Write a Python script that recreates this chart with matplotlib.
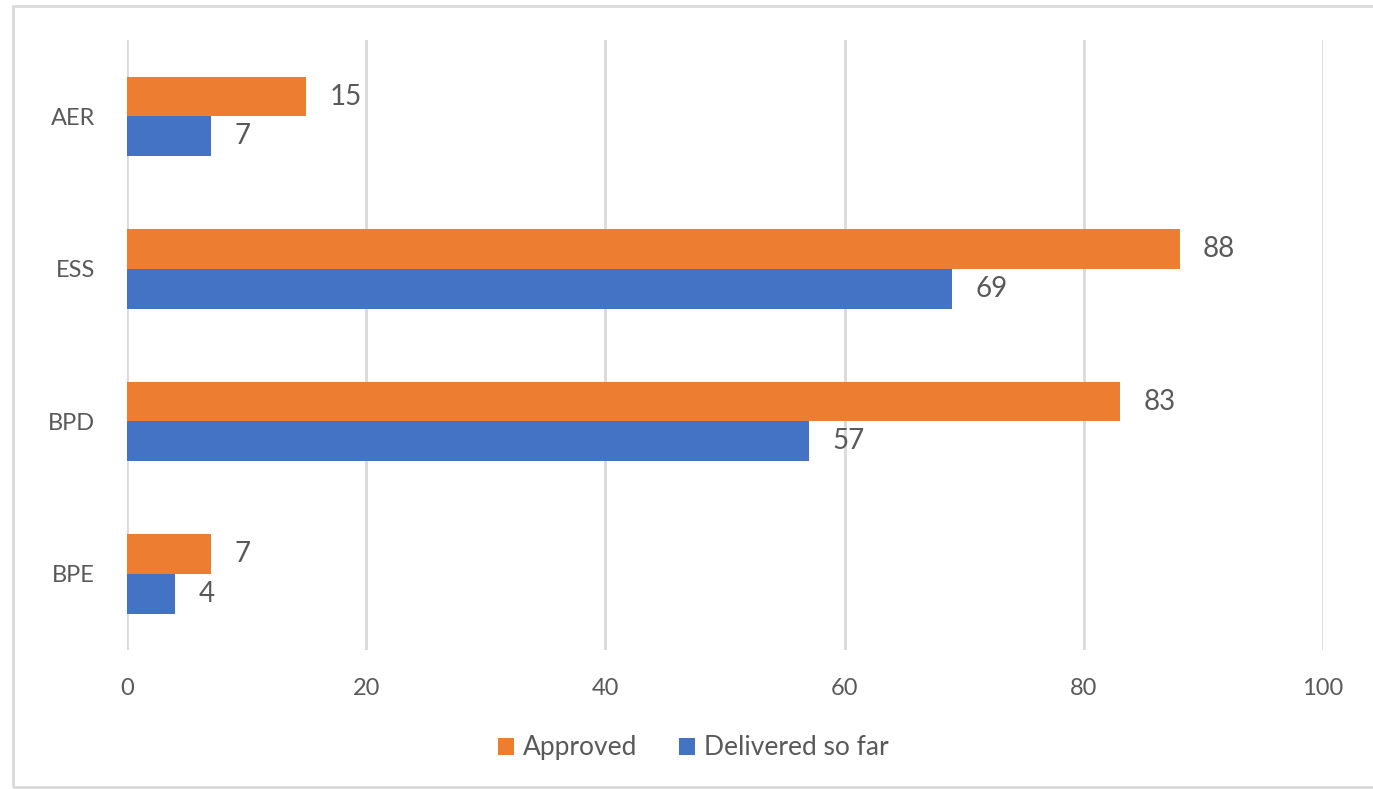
import matplotlib
matplotlib.use('Agg')
import matplotlib.pyplot as plt
import numpy as np
from matplotlib.patches import Rectangle

# ── Data ──────────────────────────────────────────────────────────────────────
categories = ['BPE', 'BPD', 'ESS', 'AER']
approved   = [7, 83, 88, 15]
delivered  = [4, 57, 69, 7]
x_ticks    = [0, 20, 40, 60, 80, 100]

ORANGE = '#ED7D31'
BLUE   = '#4472C4'
TEXT   = '#595959'
GRID   = '#D9D9D9'

plt.rcParams['font.family'] = ['Lato', 'DejaVu Sans']

fig = plt.figure(figsize=(13.73, 7.89), dpi=100)
ax = fig.add_axes([0.0925, 0.176, 0.8711, 0.773])

y = np.arange(len(categories))
h = 0.26
b1 = ax.barh(y + h / 2, approved, height=h, color=ORANGE, label='Approved', zorder=3)
b2 = ax.barh(y - h / 2, delivered, height=h, color=BLUE, label='Delivered so far', zorder=3)

for bars, vals in ((b1, approved), (b2, delivered)):
    for bar, v in zip(bars, vals):
        ax.annotate(str(v), xy=(bar.get_width(), bar.get_y() + bar.get_height() / 2),
                    xytext=(17, 0), textcoords='offset points',
                    ha='left', va='center', fontsize=20, color=TEXT)

ax.set_xlim(0, 100)
ax.set_ylim(-0.5, 3.5)
ax.set_xticks(x_ticks)
ax.set_yticks(y)
ax.set_yticklabels(categories)
ax.tick_params(axis='both', length=0, labelsize=17, colors=TEXT)
ax.tick_params(axis='x', pad=20)
ax.tick_params(axis='y', pad=23)
ax.grid(axis='x', color=GRID, linewidth=2, zorder=0)
for s in ax.spines.values():
    s.set_visible(False)

ax.legend(loc='center', bbox_to_anchor=(0.505, 0.052), bbox_transform=fig.transFigure,
          ncol=2, frameon=False, fontsize=19, labelcolor=TEXT,
          handlelength=0.6, handleheight=0.6, handletextpad=0.35, columnspacing=1.6)

# chart border
fig.add_artist(Rectangle((13 / 1373, 0.003), 1.2, 0.99, transform=fig.transFigure,
                         fill=False, edgecolor=GRID, linewidth=2))

fig.savefig('out.png', dpi=100)
